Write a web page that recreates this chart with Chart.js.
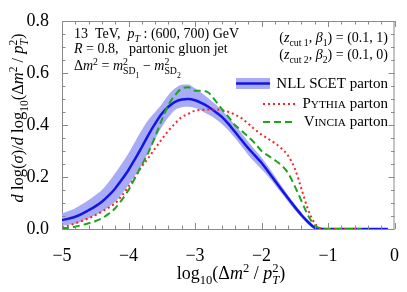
<!DOCTYPE html>
<html>
<head>
<meta charset="utf-8">
<script src="https://cdn.jsdelivr.net/npm/chart.js@4"></script>
<style>
  html, body { margin: 0; padding: 0; background: #fff; }
</style>
</head>
<body>
<canvas id="chart" width="407" height="292"></canvas>
<script>
// log10(dm^2 / pT^2) grid
const logX = [
  -5.0, -4.9, -4.8, -4.7, -4.6, -4.5, -4.4, -4.3, -4.2, -4.1,
  -4.0, -3.9, -3.8, -3.7, -3.6, -3.5, -3.4, -3.3, -3.2, -3.1,
  -3.0, -2.9, -2.8, -2.7, -2.6, -2.5, -2.4, -2.3, -2.2, -2.1,
  -2.0, -1.9, -1.8, -1.7, -1.6, -1.5, -1.4, -1.3, -1.2, -1.1,
  -1.0, -0.9, -0.8, -0.7, -0.6, -0.5, -0.4, -0.3, -0.2, -0.1
];
// NLL SCET parton (central + uncertainty band)
const nllCentral = [
  0.034, 0.040, 0.047, 0.058, 0.072, 0.087, 0.105, 0.128, 0.156, 0.190,
  0.227, 0.270, 0.315, 0.362, 0.405, 0.443, 0.470, 0.489, 0.498, 0.500,
  0.495, 0.484, 0.470, 0.452, 0.432, 0.405, 0.374, 0.342, 0.311, 0.283,
  0.255, 0.221, 0.187, 0.152, 0.118, 0.085, 0.054, 0.027, 0.005, 0.000,
  0.000, 0.000, 0.000, 0.000, 0.000, 0.000, 0.000, 0.000, 0.000, 0.000
];
const nllLow = [
  0.012, 0.016, 0.020, 0.030, 0.041, 0.053, 0.067, 0.085, 0.105, 0.135,
  0.169, 0.207, 0.246, 0.295, 0.345, 0.392, 0.430, 0.458, 0.468, 0.470,
  0.466, 0.455, 0.440, 0.425, 0.405, 0.380, 0.350, 0.318, 0.285, 0.257,
  0.230, 0.202, 0.170, 0.138, 0.105, 0.073, 0.044, 0.018, 0.000, 0.000,
  0.000, 0.000, 0.000, 0.000, 0.000, 0.000, 0.000, 0.000, 0.000, 0.000
];
const nllHigh = [
  0.060, 0.069, 0.080, 0.095, 0.112, 0.130, 0.150, 0.180, 0.214, 0.252,
  0.291, 0.337, 0.381, 0.420, 0.450, 0.480, 0.515, 0.541, 0.555, 0.556,
  0.541, 0.523, 0.503, 0.482, 0.458, 0.430, 0.400, 0.368, 0.336, 0.305,
  0.275, 0.240, 0.204, 0.166, 0.130, 0.096, 0.064, 0.035, 0.010, 0.000,
  0.000, 0.000, 0.000, 0.000, 0.000, 0.000, 0.000, 0.000, 0.000, 0.000
];
// Pythia parton
const pythia = [
  0.006, 0.013, 0.022, 0.031, 0.041, 0.053, 0.067, 0.082, 0.099, 0.128,
  0.163, 0.200, 0.240, 0.274, 0.310, 0.345, 0.378, 0.406, 0.430, 0.443,
  0.455, 0.458, 0.460, 0.460, 0.457, 0.451, 0.440, 0.426, 0.405, 0.383,
  0.363, 0.347, 0.330, 0.310, 0.282, 0.233, 0.155, 0.075, 0.022, 0.002,
  0.000, 0.000, 0.000, 0.000, 0.000, 0.000, null, null, null, null
];
// Vincia parton
const vincia = [
  0.003, 0.005, 0.009, 0.015, 0.022, 0.030, 0.041, 0.058, 0.080, 0.112,
  0.150, 0.197, 0.246, 0.295, 0.355, 0.419, 0.477, 0.515, 0.540, 0.545,
  0.532, 0.532, 0.525, 0.496, 0.462, 0.432, 0.400, 0.378, 0.355, 0.330,
  0.300, 0.282, 0.265, 0.245, 0.215, 0.165, 0.108, 0.052, 0.014, 0.002,
  0.000, 0.000, 0.000, 0.000, 0.000, 0.000, null, null, null, null
];
const xTicks = [-5, -4, -3, -2, -1, 0];
const yTicks = [0, 0.2, 0.4, 0.6, 0.8];

const SERIF = '"Liberation Serif", "DejaVu Serif", serif';
Chart.defaults.font.family = SERIF;
const toPts = (ys) => logX.map((x, i) => ({ x: x, y: ys[i] }));

// draw a run of text pieces (italic / sub / sup) on one baseline
function drawRuns(ctx, runs, x, y, size, align) {
  const font = (r) => (r.i ? 'italic ' : '') + (size * (r.s || 1)).toFixed(1) + 'px ' + SERIF;
  let total = 0;
  runs.forEach((r) => {
    ctx.font = font(r);
    r.w = ctx.measureText(r.t).width;
    if (!r.stay) total += r.w;
  });
  let cx = x;
  if (align === 'center') cx = x - total / 2;
  if (align === 'right') cx = x - total;
  ctx.textAlign = 'left';
  ctx.textBaseline = 'alphabetic';
  runs.forEach((r) => {
    ctx.font = font(r);
    ctx.fillText(r.t, cx, y + (r.dy || 0) * size);
    if (!r.stay) cx += r.w;
  });
}

const SUP = -0.38, SUB = 0.25;

const decorPlugin = {
  id: 'decor',
  beforeDatasetsDraw(chart) {
    const { ctx, chartArea: a } = chart;
    ctx.save();
    ctx.strokeStyle = '#8a8a8a';
    ctx.lineWidth = 1;
    ctx.strokeRect(a.left + 0.5, a.top + 0.5, a.right - a.left - 1, a.bottom - a.top);
    ctx.restore();
  },
  afterDatasetsDraw(chart) {
    const { ctx, chartArea: a, scales } = chart;
    const xs = scales.x, ys = scales.y;
    ctx.save();
    ctx.strokeStyle = '#8a8a8a';
    ctx.lineWidth = 1;
    ctx.beginPath();
    // x ticks every 0.2, longer at integers
    for (let k = 0; k <= 25; k++) {
      const v = -5 + k * 0.2;
      const px = Math.round(xs.getPixelForValue(v)) + 0.5;
      const len = k % 5 === 0 ? 6 : 3.5;
      ctx.moveTo(px, a.bottom); ctx.lineTo(px, a.bottom - len);
      ctx.moveTo(px, a.top); ctx.lineTo(px, a.top + len);
    }
    // y ticks every 0.05, longer at 0.2 steps
    for (let k = 0; k <= 16; k++) {
      const v = k * 0.05;
      const py = Math.round(ys.getPixelForValue(v)) + 0.5;
      const len = k % 4 === 0 ? 6 : 3.5;
      ctx.moveTo(a.left, py); ctx.lineTo(a.left + len, py);
      ctx.moveTo(a.right, py); ctx.lineTo(a.right - len, py);
    }
    ctx.stroke();
    ctx.restore();
  },
  afterDraw(chart) {
    const { ctx } = chart;
    ctx.save();
    ctx.fillStyle = '#000';

    // x axis title
    drawRuns(ctx, [
      { t: 'log' }, { t: '10', s: 0.7, dy: SUB + 0.05 }, { t: '(Δ' }, { t: 'm', i: true },
      { t: '2', s: 0.7, dy: SUP }, { t: ' / ' }, { t: 'p', i: true },
      { t: '2', s: 0.7, dy: SUP, stay: true }, { t: 'T', s: 0.7, dy: SUB + 0.05, i: true }, { t: ')' }
    ], 231, 279, 18, 'center');

    // y axis title
    ctx.save();
    ctx.translate(23, 118);
    ctx.rotate(-Math.PI / 2);
    drawRuns(ctx, [
      { t: 'd', i: true }, { t: ' log(' }, { t: 'σ', i: true }, { t: ')/' },
      { t: 'd', i: true }, { t: ' log' }, { t: '10', s: 0.7, dy: SUB + 0.05 }, { t: '(Δ' },
      { t: 'm', i: true }, { t: '2', s: 0.7, dy: SUP }, { t: ' / ' }, { t: 'p', i: true },
      { t: '2', s: 0.7, dy: SUP, stay: true }, { t: 'T', s: 0.7, dy: SUB + 0.05, i: true }, { t: ')' }
    ], 0, 0, 16.5, 'center');
    ctx.restore();

    // annotations (left block)
    drawRuns(ctx, [
      { t: '13  TeV,  ' }, { t: 'p', i: true }, { t: 'T', i: true, s: 0.7, dy: SUB },
      { t: ' : (600, 700) GeV' }
    ], 74, 38, 14, 'left');
    drawRuns(ctx, [
      { t: 'R', i: true }, { t: ' = 0.8,   partonic gluon jet' }
    ], 74, 53, 14, 'left');
    drawRuns(ctx, [
      { t: 'Δ' }, { t: 'm', i: true }, { t: '2', s: 0.7, dy: SUP }, { t: ' = ' },
      { t: 'm', i: true }, { t: '2', s: 0.7, dy: SUP, stay: true }, { t: 'SD', s: 0.7, dy: SUB + 0.05 },
      { t: '1', s: 0.55, dy: SUB + 0.3 }, { t: ' − ' },
      { t: 'm', i: true }, { t: '2', s: 0.7, dy: SUP, stay: true }, { t: 'SD', s: 0.7, dy: SUB + 0.05 },
      { t: '2', s: 0.55, dy: SUB + 0.3 }
    ], 74, 70, 14, 'left');

    // annotations (right block)
    drawRuns(ctx, [
      { t: '(' }, { t: 'z', i: true }, { t: 'cut 1', s: 0.7, dy: SUB }, { t: ', ' },
      { t: 'β', i: true }, { t: '1', s: 0.7, dy: SUB }, { t: ') = (0.1, 1)' }
    ], 388, 42, 14, 'right');
    drawRuns(ctx, [
      { t: '(' }, { t: 'z', i: true }, { t: 'cut 2', s: 0.7, dy: SUB }, { t: ', ' },
      { t: 'β', i: true }, { t: '2', s: 0.7, dy: SUB }, { t: ') = (0.1, 0)' }
    ], 388, 59, 14, 'right');

    // legend
    ctx.fillStyle = '#a7acf4';
    ctx.fillRect(236, 78, 34, 11);
    ctx.strokeStyle = '#1414e6';
    ctx.lineWidth = 2.5;
    ctx.beginPath(); ctx.moveTo(236, 83.5); ctx.lineTo(270, 83.5); ctx.stroke();

    ctx.strokeStyle = '#ff2020';
    ctx.lineWidth = 2;
    ctx.setLineDash([2, 3]);
    ctx.beginPath(); ctx.moveTo(263, 104); ctx.lineTo(296, 104); ctx.stroke();

    ctx.strokeStyle = '#1fa31f';
    ctx.setLineDash([7, 4]);
    ctx.beginPath(); ctx.moveTo(263, 122); ctx.lineTo(296, 122); ctx.stroke();
    ctx.setLineDash([]);

    ctx.fillStyle = '#000';
    drawRuns(ctx, [{ t: 'NLL SCET parton' }], 388, 88, 15, 'right');
    drawRuns(ctx, [{ t: 'P' }, { t: 'YTHIA', s: 0.75 }, { t: ' parton' }], 388, 108, 15, 'right');
    drawRuns(ctx, [{ t: 'V' }, { t: 'INCIA', s: 0.75 }, { t: ' parton' }], 388, 126, 15, 'right');

    ctx.restore();
  }
};

const ctx = document.getElementById('chart').getContext('2d');
new Chart(ctx, {
  type: 'line',
  data: {
    datasets: [
      {
        label: 'NLL band high',
        data: toPts(nllHigh),
        borderWidth: 0,
        pointRadius: 0,
        backgroundColor: '#a7acf4',
        fill: '+1',
        cubicInterpolationMode: 'monotone',
        order: 5
      },
      {
        label: 'NLL band low',
        data: toPts(nllLow),
        borderWidth: 0,
        pointRadius: 0,
        fill: false,
        cubicInterpolationMode: 'monotone',
        order: 4
      },
      {
        label: 'NLL SCET parton',
        data: toPts(nllCentral),
        borderColor: '#1414e6',
        borderWidth: 2.5,
        pointRadius: 0,
        fill: false,
        cubicInterpolationMode: 'monotone',
        order: 3
      },
      {
        label: 'Pythia parton',
        data: toPts(pythia),
        borderColor: '#ff2020',
        borderWidth: 2,
        borderDash: [2, 3],
        pointRadius: 0,
        fill: false,
        cubicInterpolationMode: 'monotone',
        order: 2
      },
      {
        label: 'Vincia parton',
        data: toPts(vincia),
        borderColor: '#1fa31f',
        borderWidth: 2,
        borderDash: [7, 4],
        pointRadius: 0,
        fill: false,
        cubicInterpolationMode: 'monotone',
        order: 1
      }
    ]
  },
  options: {
    responsive: false,
    animation: false,
    layout: { padding: { top: 21, right: 10, left: 0, bottom: 0 } },
    plugins: {
      legend: { display: false },
      tooltip: { enabled: false },
      title: { display: false }
    },
    scales: {
      x: {
        type: 'linear',
        min: -5,
        max: 0,
        afterBuildTicks: (s) => { s.ticks = xTicks.map((v) => ({ value: v })); },
        afterFit: (s) => { s.height = 63; },
        grid: { display: false },
        border: { display: false },
        ticks: {
          color: '#000',
          padding: 8,
          maxRotation: 0,
          font: { family: SERIF, size: 18 },
          callback: (v) => (v < 0 ? '−' + Math.abs(v) : String(v))
        }
      },
      y: {
        type: 'linear',
        min: 0,
        max: 0.8,
        afterBuildTicks: (s) => { s.ticks = yTicks.map((v) => ({ value: v })); },
        afterFit: (s) => { s.width = 62; },
        grid: { display: false },
        border: { display: false },
        ticks: {
          color: '#000',
          padding: 5,
          font: { family: SERIF, size: 18 },
          callback: (v) => v.toFixed(1)
        }
      }
    }
  },
  plugins: [decorPlugin]
});
</script>
</body>
</html>
